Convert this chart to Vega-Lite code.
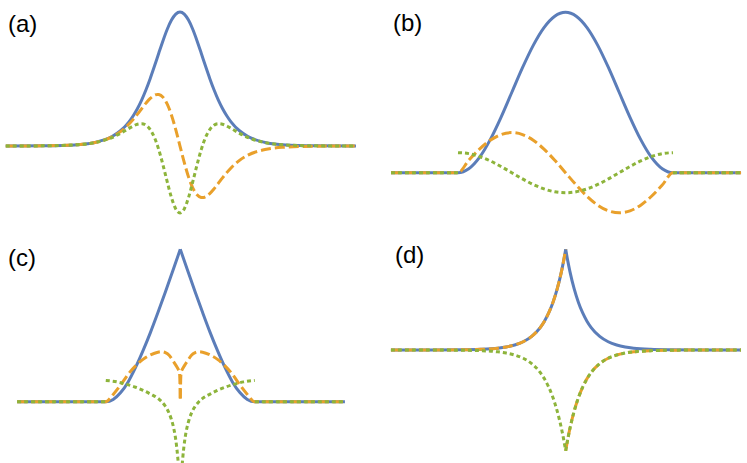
{
"$schema": "https://vega.github.io/schema/vega-lite/v6.json",
"padding": 0,
"background": "white",
"config": {"view": {"stroke": null}},
"datasets": {
"A": [
{"k":"b","s":0,"x":-10.25,"y":0},{"k":"b","s":0,"x":-8,"y":0.0013},{"k":"b","s":0,"x":-6,"y":0.0099},{"k":"b","s":0,"x":-5,"y":0.0266},{"k":"b","s":0,"x":-4,"y":0.0707},{"k":"b","s":0,"x":-3.5,"y":0.1138},{"k":"b","s":0,"x":-3,"y":0.1807},{"k":"b","s":0,"x":-2.75,"y":0.2259},{"k":"b","s":0,"x":-2.5,"y":0.2804},{"k":"b","s":0,"x":-2.25,"y":0.345},{"k":"b","s":0,"x":-2,"y":0.42},{"k":"b","s":0,"x":-1.75,"y":0.5045},{"k":"b","s":0,"x":-1.5,"y":0.5966},{"k":"b","s":0,"x":-1.25,"y":0.6924},{"k":"b","s":0,"x":-1,"y":0.7864},{"k":"b","s":0,"x":-0.75,"y":0.8716},{"k":"b","s":0,"x":-0.5,"y":0.94},{"k":"b","s":0,"x":-0.25,"y":0.9845},{"k":"b","s":0,"x":0,"y":1},
{"k":"b","s":0,"x":0.25,"y":0.9845},{"k":"b","s":0,"x":0.5,"y":0.94},{"k":"b","s":0,"x":0.75,"y":0.8716},{"k":"b","s":0,"x":1,"y":0.7864},{"k":"b","s":0,"x":1.25,"y":0.6924},{"k":"b","s":0,"x":1.5,"y":0.5966},{"k":"b","s":0,"x":1.75,"y":0.5045},{"k":"b","s":0,"x":2,"y":0.42},{"k":"b","s":0,"x":2.25,"y":0.345},{"k":"b","s":0,"x":2.5,"y":0.2804},{"k":"b","s":0,"x":2.75,"y":0.2259},{"k":"b","s":0,"x":3,"y":0.1807},{"k":"b","s":0,"x":3.5,"y":0.1138},{"k":"b","s":0,"x":4,"y":0.0707},{"k":"b","s":0,"x":5,"y":0.0266},{"k":"b","s":0,"x":6,"y":0.0099},{"k":"b","s":0,"x":8,"y":0.0013},{"k":"b","s":0,"x":10.35,"y":0},
{"k":"o","s":0,"x":-10.25,"y":0},{"k":"o","s":0,"x":-8,"y":0.0013},{"k":"o","s":0,"x":-6,"y":0.0098},{"k":"o","s":0,"x":-5,"y":0.0262},{"k":"o","s":0,"x":-4,"y":0.0681},{"k":"o","s":0,"x":-3.5,"y":0.1071},{"k":"o","s":0,"x":-3,"y":0.1636},{"k":"o","s":0,"x":-2.75,"y":0.1988},{"k":"o","s":0,"x":-2.5,"y":0.2379},{"k":"o","s":0,"x":-2.25,"y":0.2792},{"k":"o","s":0,"x":-2,"y":0.3199},{"k":"o","s":0,"x":-1.75,"y":0.3551},{"k":"o","s":0,"x":-1.5,"y":0.3789},{"k":"o","s":0,"x":-1.32,"y":0.3849},{"k":"o","s":0,"x":-1.25,"y":0.384},{"k":"o","s":0,"x":-1,"y":0.3634},{"k":"o","s":0,"x":-0.75,"y":0.3123},{"k":"o","s":0,"x":-0.5,"y":0.2302},{"k":"o","s":0,"x":-0.25,"y":0.1224},{"k":"o","s":0,"x":0,"y":0},
{"k":"o","s":0,"x":0.25,"y":-0.1224},{"k":"o","s":0,"x":0.5,"y":-0.2302},{"k":"o","s":0,"x":0.75,"y":-0.3123},{"k":"o","s":0,"x":1,"y":-0.3634},{"k":"o","s":0,"x":1.25,"y":-0.384},{"k":"o","s":0,"x":1.32,"y":-0.3849},{"k":"o","s":0,"x":1.5,"y":-0.3789},{"k":"o","s":0,"x":1.75,"y":-0.3551},{"k":"o","s":0,"x":2,"y":-0.3199},{"k":"o","s":0,"x":2.25,"y":-0.2792},{"k":"o","s":0,"x":2.5,"y":-0.2379},{"k":"o","s":0,"x":2.75,"y":-0.1988},{"k":"o","s":0,"x":3,"y":-0.1636},{"k":"o","s":0,"x":3.5,"y":-0.1071},{"k":"o","s":0,"x":4,"y":-0.0681},{"k":"o","s":0,"x":5,"y":-0.0262},{"k":"o","s":0,"x":6,"y":-0.0098},{"k":"o","s":0,"x":8,"y":-0.0013},{"k":"o","s":0,"x":10.35,"y":0},
{"k":"g","s":0,"x":-10.25,"y":0},{"k":"g","s":0,"x":-8,"y":0.0013},{"k":"g","s":0,"x":-6,"y":0.0097},{"k":"g","s":0,"x":-5,"y":0.0255},{"k":"g","s":0,"x":-4,"y":0.0632},{"k":"g","s":0,"x":-3.5,"y":0.0944},{"k":"g","s":0,"x":-3,"y":0.1317},{"k":"g","s":0,"x":-2.75,"y":0.1494},{"k":"g","s":0,"x":-2.5,"y":0.1625},{"k":"g","s":0,"x":-2.25,"y":0.1665},{"k":"g","s":0,"x":-2,"y":0.1554},{"k":"g","s":0,"x":-1.75,"y":0.1227},{"k":"g","s":0,"x":-1.5,"y":0.0627},{"k":"g","s":0,"x":-1.25,"y":-0.0268},{"k":"g","s":0,"x":-1,"y":-0.1413},{"k":"g","s":0,"x":-0.75,"y":-0.2679},{"k":"g","s":0,"x":-0.5,"y":-0.3854},{"k":"g","s":0,"x":-0.25,"y":-0.4694},{"k":"g","s":0,"x":0,"y":-0.5},
{"k":"g","s":0,"x":0.25,"y":-0.4694},{"k":"g","s":0,"x":0.5,"y":-0.3854},{"k":"g","s":0,"x":0.75,"y":-0.2679},{"k":"g","s":0,"x":1,"y":-0.1413},{"k":"g","s":0,"x":1.25,"y":-0.0268},{"k":"g","s":0,"x":1.5,"y":0.0627},{"k":"g","s":0,"x":1.75,"y":0.1227},{"k":"g","s":0,"x":2,"y":0.1554},{"k":"g","s":0,"x":2.25,"y":0.1665},{"k":"g","s":0,"x":2.5,"y":0.1625},{"k":"g","s":0,"x":2.75,"y":0.1494},{"k":"g","s":0,"x":3,"y":0.1317},{"k":"g","s":0,"x":3.5,"y":0.0944},{"k":"g","s":0,"x":4,"y":0.0632},{"k":"g","s":0,"x":5,"y":0.0255},{"k":"g","s":0,"x":6,"y":0.0097},{"k":"g","s":0,"x":8,"y":0.0013},{"k":"g","s":0,"x":10.35,"y":0}
],
"B": [
{"k":"b","s":0,"x":-1.623,"y":0},{"k":"b","s":0,"x":-1,"y":0},{"k":"b","s":0,"x":-0.9,"y":0.0245},{"k":"b","s":0,"x":-0.8,"y":0.0955},{"k":"b","s":0,"x":-0.7,"y":0.2061},{"k":"b","s":0,"x":-0.6,"y":0.3455},{"k":"b","s":0,"x":-0.5,"y":0.5},{"k":"b","s":0,"x":-0.4,"y":0.6545},{"k":"b","s":0,"x":-0.3,"y":0.7939},{"k":"b","s":0,"x":-0.2,"y":0.9045},{"k":"b","s":0,"x":-0.1,"y":0.9755},{"k":"b","s":0,"x":0,"y":1},{"k":"b","s":0,"x":0.1,"y":0.9755},{"k":"b","s":0,"x":0.2,"y":0.9045},{"k":"b","s":0,"x":0.3,"y":0.7939},{"k":"b","s":0,"x":0.4,"y":0.6545},{"k":"b","s":0,"x":0.5,"y":0.5},{"k":"b","s":0,"x":0.6,"y":0.3455},{"k":"b","s":0,"x":0.7,"y":0.2061},{"k":"b","s":0,"x":0.8,"y":0.0955},{"k":"b","s":0,"x":0.9,"y":0.0245},{"k":"b","s":0,"x":1,"y":0},{"k":"b","s":0,"x":1.633,"y":0},
{"k":"o","s":0,"x":-1.623,"y":0},{"k":"o","s":0,"x":-1,"y":0},{"k":"o","s":0,"x":-0.9,"y":0.0773},{"k":"o","s":0,"x":-0.8,"y":0.1469},{"k":"o","s":0,"x":-0.7,"y":0.2023},{"k":"o","s":0,"x":-0.6,"y":0.2378},{"k":"o","s":0,"x":-0.5,"y":0.25},{"k":"o","s":0,"x":-0.4,"y":0.2378},{"k":"o","s":0,"x":-0.3,"y":0.2023},{"k":"o","s":0,"x":-0.2,"y":0.1469},{"k":"o","s":0,"x":-0.1,"y":0.0773},{"k":"o","s":0,"x":0,"y":0},{"k":"o","s":0,"x":0.1,"y":-0.0773},{"k":"o","s":0,"x":0.2,"y":-0.1469},{"k":"o","s":0,"x":0.3,"y":-0.2023},{"k":"o","s":0,"x":0.4,"y":-0.2378},{"k":"o","s":0,"x":0.5,"y":-0.25},{"k":"o","s":0,"x":0.6,"y":-0.2378},{"k":"o","s":0,"x":0.7,"y":-0.2023},{"k":"o","s":0,"x":0.8,"y":-0.1469},{"k":"o","s":0,"x":0.9,"y":-0.0773},{"k":"o","s":0,"x":1,"y":0},{"k":"o","s":0,"x":1.633,"y":0},
{"k":"g","s":0,"x":-1.623,"y":0},{"k":"g","s":0,"x":-1,"y":0},
{"k":"g","s":1,"x":-1,"y":0.125},{"k":"g","s":1,"x":-0.9,"y":0.1189},{"k":"g","s":1,"x":-0.8,"y":0.1011},{"k":"g","s":1,"x":-0.7,"y":0.0735},{"k":"g","s":1,"x":-0.6,"y":0.0386},{"k":"g","s":1,"x":-0.5,"y":0},{"k":"g","s":1,"x":-0.4,"y":-0.0386},{"k":"g","s":1,"x":-0.3,"y":-0.0735},{"k":"g","s":1,"x":-0.2,"y":-0.1011},{"k":"g","s":1,"x":-0.1,"y":-0.1189},{"k":"g","s":1,"x":0,"y":-0.125},{"k":"g","s":1,"x":0.1,"y":-0.1189},{"k":"g","s":1,"x":0.2,"y":-0.1011},{"k":"g","s":1,"x":0.3,"y":-0.0735},{"k":"g","s":1,"x":0.4,"y":-0.0386},{"k":"g","s":1,"x":0.5,"y":0},{"k":"g","s":1,"x":0.6,"y":0.0386},{"k":"g","s":1,"x":0.7,"y":0.0735},{"k":"g","s":1,"x":0.8,"y":0.1011},{"k":"g","s":1,"x":0.9,"y":0.1189},{"k":"g","s":1,"x":1,"y":0.125},
{"k":"g","s":2,"x":1,"y":0},{"k":"g","s":2,"x":1.633,"y":0}
],
"C": [
{"k":"b","s":0,"x":-2.19,"y":0},{"k":"b","s":0,"x":-1,"y":0},{"k":"b","s":0,"x":-0.9,"y":0.015},{"k":"b","s":0,"x":-0.8,"y":0.06},{"k":"b","s":0,"x":-0.7,"y":0.13},{"k":"b","s":0,"x":-0.6,"y":0.225},{"k":"b","s":0,"x":-0.5,"y":0.335},{"k":"b","s":0,"x":-0.4,"y":0.455},{"k":"b","s":0,"x":-0.3,"y":0.585},{"k":"b","s":0,"x":-0.2,"y":0.72},{"k":"b","s":0,"x":-0.1,"y":0.86},{"k":"b","s":0,"x":0,"y":1},
{"k":"b","s":1,"x":0,"y":1},{"k":"b","s":1,"x":0.1,"y":0.86},{"k":"b","s":1,"x":0.2,"y":0.72},{"k":"b","s":1,"x":0.3,"y":0.585},{"k":"b","s":1,"x":0.4,"y":0.455},{"k":"b","s":1,"x":0.5,"y":0.335},{"k":"b","s":1,"x":0.6,"y":0.225},{"k":"b","s":1,"x":0.7,"y":0.13},{"k":"b","s":1,"x":0.8,"y":0.06},{"k":"b","s":1,"x":0.9,"y":0.015},{"k":"b","s":1,"x":1,"y":0},{"k":"b","s":1,"x":2.21,"y":0},
{"k":"o","s":0,"x":-2.19,"y":0},{"k":"o","s":0,"x":-1,"y":0},{"k":"o","s":0,"x":-0.9,"y":0.048},{"k":"o","s":0,"x":-0.8,"y":0.11},{"k":"o","s":0,"x":-0.7,"y":0.18},{"k":"o","s":0,"x":-0.6,"y":0.235},{"k":"o","s":0,"x":-0.5,"y":0.278},{"k":"o","s":0,"x":-0.4,"y":0.307},{"k":"o","s":0,"x":-0.3,"y":0.325},{"k":"o","s":0,"x":-0.25,"y":0.328},{"k":"o","s":0,"x":-0.2,"y":0.322},{"k":"o","s":0,"x":-0.15,"y":0.305},{"k":"o","s":0,"x":-0.1,"y":0.27},{"k":"o","s":0,"x":-0.06,"y":0.24},{"k":"o","s":0,"x":-0.03,"y":0.215},{"k":"o","s":0,"x":-0.01,"y":0.19},{"k":"o","s":0,"x":0,"y":0.02},
{"k":"o","s":1,"x":0,"y":0.02},{"k":"o","s":1,"x":0.01,"y":0.19},{"k":"o","s":1,"x":0.03,"y":0.215},{"k":"o","s":1,"x":0.06,"y":0.24},{"k":"o","s":1,"x":0.1,"y":0.27},{"k":"o","s":1,"x":0.15,"y":0.305},{"k":"o","s":1,"x":0.2,"y":0.322},{"k":"o","s":1,"x":0.25,"y":0.328},{"k":"o","s":1,"x":0.3,"y":0.325},{"k":"o","s":1,"x":0.4,"y":0.307},{"k":"o","s":1,"x":0.5,"y":0.278},{"k":"o","s":1,"x":0.6,"y":0.235},{"k":"o","s":1,"x":0.7,"y":0.18},{"k":"o","s":1,"x":0.8,"y":0.11},{"k":"o","s":1,"x":0.9,"y":0.048},{"k":"o","s":1,"x":1,"y":0},{"k":"o","s":1,"x":2.21,"y":0},
{"k":"g","s":0,"x":-2.19,"y":0},{"k":"g","s":0,"x":-1,"y":0},
{"k":"g","s":1,"x":-1,"y":0.14},{"k":"g","s":1,"x":-0.85,"y":0.13},{"k":"g","s":1,"x":-0.72,"y":0.114},{"k":"g","s":1,"x":-0.6,"y":0.095},{"k":"g","s":1,"x":-0.5,"y":0.075},{"k":"g","s":1,"x":-0.4,"y":0.05},{"k":"g","s":1,"x":-0.3,"y":0.022},{"k":"g","s":1,"x":-0.25,"y":0},{"k":"g","s":1,"x":-0.2,"y":-0.03},{"k":"g","s":1,"x":-0.15,"y":-0.075},{"k":"g","s":1,"x":-0.12,"y":-0.115},{"k":"g","s":1,"x":-0.09,"y":-0.17},{"k":"g","s":1,"x":-0.07,"y":-0.22},{"k":"g","s":1,"x":-0.05,"y":-0.29},{"k":"g","s":1,"x":-0.035,"y":-0.36},{"k":"g","s":1,"x":-0.025,"y":-0.42},{"k":"g","s":1,"x":-0.012,"y":-0.55},
{"k":"g","s":2,"x":0.012,"y":-0.55},{"k":"g","s":2,"x":0.025,"y":-0.42},{"k":"g","s":2,"x":0.035,"y":-0.36},{"k":"g","s":2,"x":0.05,"y":-0.29},{"k":"g","s":2,"x":0.07,"y":-0.22},{"k":"g","s":2,"x":0.09,"y":-0.17},{"k":"g","s":2,"x":0.12,"y":-0.115},{"k":"g","s":2,"x":0.15,"y":-0.075},{"k":"g","s":2,"x":0.2,"y":-0.03},{"k":"g","s":2,"x":0.25,"y":0},{"k":"g","s":2,"x":0.3,"y":0.022},{"k":"g","s":2,"x":0.4,"y":0.05},{"k":"g","s":2,"x":0.5,"y":0.075},{"k":"g","s":2,"x":0.6,"y":0.095},{"k":"g","s":2,"x":0.72,"y":0.114},{"k":"g","s":2,"x":0.85,"y":0.13},{"k":"g","s":2,"x":1,"y":0.14},
{"k":"g","s":3,"x":1,"y":0},{"k":"g","s":3,"x":2.21,"y":0}
],
"D": [
{"k":"b","s":0,"x":-10.28,"y":0},{"k":"b","s":0,"x":-8,"y":0.0003},{"k":"b","s":0,"x":-6,"y":0.0025},{"k":"b","s":0,"x":-5,"y":0.0067},{"k":"b","s":0,"x":-4,"y":0.0183},{"k":"b","s":0,"x":-3.5,"y":0.0302},{"k":"b","s":0,"x":-3,"y":0.0498},{"k":"b","s":0,"x":-2.5,"y":0.0821},{"k":"b","s":0,"x":-2,"y":0.1353},{"k":"b","s":0,"x":-1.5,"y":0.2231},{"k":"b","s":0,"x":-1.25,"y":0.2865},{"k":"b","s":0,"x":-1,"y":0.3679},{"k":"b","s":0,"x":-0.75,"y":0.4724},{"k":"b","s":0,"x":-0.5,"y":0.6065},{"k":"b","s":0,"x":-0.25,"y":0.7788},{"k":"b","s":0,"x":-0.125,"y":0.8825},{"k":"b","s":0,"x":0,"y":1},
{"k":"b","s":1,"x":0,"y":1},{"k":"b","s":1,"x":0.125,"y":0.8825},{"k":"b","s":1,"x":0.25,"y":0.7788},{"k":"b","s":1,"x":0.5,"y":0.6065},{"k":"b","s":1,"x":0.75,"y":0.4724},{"k":"b","s":1,"x":1,"y":0.3679},{"k":"b","s":1,"x":1.25,"y":0.2865},{"k":"b","s":1,"x":1.5,"y":0.2231},{"k":"b","s":1,"x":2,"y":0.1353},{"k":"b","s":1,"x":2.5,"y":0.0821},{"k":"b","s":1,"x":3,"y":0.0498},{"k":"b","s":1,"x":3.5,"y":0.0302},{"k":"b","s":1,"x":4,"y":0.0183},{"k":"b","s":1,"x":5,"y":0.0067},{"k":"b","s":1,"x":6,"y":0.0025},{"k":"b","s":1,"x":8,"y":0.0003},{"k":"b","s":1,"x":10.31,"y":0},
{"k":"o","s":0,"x":-10.28,"y":0},{"k":"o","s":0,"x":-8,"y":0.0003},{"k":"o","s":0,"x":-6,"y":0.0025},{"k":"o","s":0,"x":-5,"y":0.0067},{"k":"o","s":0,"x":-4,"y":0.0183},{"k":"o","s":0,"x":-3.5,"y":0.0302},{"k":"o","s":0,"x":-3,"y":0.0498},{"k":"o","s":0,"x":-2.5,"y":0.0821},{"k":"o","s":0,"x":-2,"y":0.1353},{"k":"o","s":0,"x":-1.5,"y":0.2231},{"k":"o","s":0,"x":-1.25,"y":0.2865},{"k":"o","s":0,"x":-1,"y":0.3679},{"k":"o","s":0,"x":-0.75,"y":0.4724},{"k":"o","s":0,"x":-0.5,"y":0.6065},{"k":"o","s":0,"x":-0.25,"y":0.7788},{"k":"o","s":0,"x":-0.125,"y":0.8825},{"k":"o","s":0,"x":0,"y":1},
{"k":"o","s":1,"x":0,"y":-1},{"k":"o","s":1,"x":0.125,"y":-0.8825},{"k":"o","s":1,"x":0.25,"y":-0.7788},{"k":"o","s":1,"x":0.5,"y":-0.6065},{"k":"o","s":1,"x":0.75,"y":-0.4724},{"k":"o","s":1,"x":1,"y":-0.3679},{"k":"o","s":1,"x":1.25,"y":-0.2865},{"k":"o","s":1,"x":1.5,"y":-0.2231},{"k":"o","s":1,"x":2,"y":-0.1353},{"k":"o","s":1,"x":2.5,"y":-0.0821},{"k":"o","s":1,"x":3,"y":-0.0498},{"k":"o","s":1,"x":3.5,"y":-0.0302},{"k":"o","s":1,"x":4,"y":-0.0183},{"k":"o","s":1,"x":5,"y":-0.0067},{"k":"o","s":1,"x":6,"y":-0.0025},{"k":"o","s":1,"x":8,"y":-0.0003},{"k":"o","s":1,"x":10.31,"y":0},
{"k":"g","s":0,"x":-10.28,"y":0},{"k":"g","s":0,"x":-8,"y":-0.0003},{"k":"g","s":0,"x":-6,"y":-0.0025},{"k":"g","s":0,"x":-5,"y":-0.0067},{"k":"g","s":0,"x":-4,"y":-0.0183},{"k":"g","s":0,"x":-3.5,"y":-0.0302},{"k":"g","s":0,"x":-3,"y":-0.0498},{"k":"g","s":0,"x":-2.5,"y":-0.0821},{"k":"g","s":0,"x":-2,"y":-0.1353},{"k":"g","s":0,"x":-1.5,"y":-0.2231},{"k":"g","s":0,"x":-1.25,"y":-0.2865},{"k":"g","s":0,"x":-1,"y":-0.3679},{"k":"g","s":0,"x":-0.75,"y":-0.4724},{"k":"g","s":0,"x":-0.5,"y":-0.6065},{"k":"g","s":0,"x":-0.25,"y":-0.7788},{"k":"g","s":0,"x":-0.125,"y":-0.8825},{"k":"g","s":0,"x":0,"y":-1},
{"k":"g","s":1,"x":0,"y":-1},{"k":"g","s":1,"x":0.125,"y":-0.8825},{"k":"g","s":1,"x":0.25,"y":-0.7788},{"k":"g","s":1,"x":0.5,"y":-0.6065},{"k":"g","s":1,"x":0.75,"y":-0.4724},{"k":"g","s":1,"x":1,"y":-0.3679},{"k":"g","s":1,"x":1.25,"y":-0.2865},{"k":"g","s":1,"x":1.5,"y":-0.2231},{"k":"g","s":1,"x":2,"y":-0.1353},{"k":"g","s":1,"x":2.5,"y":-0.0821},{"k":"g","s":1,"x":3,"y":-0.0498},{"k":"g","s":1,"x":3.5,"y":-0.0302},{"k":"g","s":1,"x":4,"y":-0.0183},{"k":"g","s":1,"x":5,"y":-0.0067},{"k":"g","s":1,"x":6,"y":-0.0025},{"k":"g","s":1,"x":8,"y":-0.0003},{"k":"g","s":1,"x":10.31,"y":0}
]
},
"vconcat": [
{"hconcat": [
{"width": 373, "height": 231, "data": {"name": "A"},
 "encoding": {"x": {"field": "x", "type": "quantitative", "scale": {"domain": [-10.588, 11.353], "nice": false, "zero": false}, "axis": null},
              "y": {"field": "y", "type": "quantitative", "scale": {"domain": [-0.6343, 1.0896], "nice": false, "zero": false}, "axis": null}},
 "layer": [
  {"transform": [{"filter": "datum.k=='b'"}], "mark": {"type": "line", "interpolate": "monotone", "strokeWidth": 3, "color": "#5B7DB9", "clip": true}, "encoding": {"detail": {"field": "s"}}},
  {"transform": [{"filter": "datum.k=='o'"}], "mark": {"type": "line", "interpolate": "monotone", "strokeWidth": 3, "color": "#E9A02B", "strokeDash": [10, 4], "clip": true}, "encoding": {"detail": {"field": "s"}}},
  {"transform": [{"filter": "datum.k=='g'"}], "mark": {"type": "line", "interpolate": "monotone", "strokeWidth": 3, "color": "#8DB43B", "strokeDash": [4, 3], "clip": true}, "encoding": {"detail": {"field": "s"}}},
  {"data": {"values": [{"x": -10.12, "y": 0.8545, "t": "(a)"}]}, "mark": {"type": "text", "align": "left", "baseline": "alphabetic", "fontSize": 24, "font": "Liberation Sans", "color": "#000000"}, "encoding": {"text": {"field": "t"}}}
 ]},
{"width": 374, "height": 231, "data": {"name": "B"},
 "encoding": {"x": {"field": "x", "type": "quantitative", "scale": {"domain": [-1.7907, 1.6884], "nice": false, "zero": false}, "axis": null},
              "y": {"field": "y", "type": "quantitative", "scale": {"domain": [-0.3635, 1.0767], "nice": false, "zero": false}, "axis": null}},
 "layer": [
  {"transform": [{"filter": "datum.k=='b'"}], "mark": {"type": "line", "interpolate": "monotone", "strokeWidth": 3, "color": "#5B7DB9", "clip": true}, "encoding": {"detail": {"field": "s"}}},
  {"transform": [{"filter": "datum.k=='o'"}], "mark": {"type": "line", "interpolate": "monotone", "strokeWidth": 3, "color": "#E9A02B", "strokeDash": [10, 4], "clip": true}, "encoding": {"detail": {"field": "s"}}},
  {"transform": [{"filter": "datum.k=='g'"}], "mark": {"type": "line", "interpolate": "monotone", "strokeWidth": 3, "color": "#8DB43B", "strokeDash": [4, 3], "clip": true}, "encoding": {"detail": {"field": "s"}}},
  {"data": {"values": [{"x": -1.6047, "y": 0.8834, "t": "(b)"}]}, "mark": {"type": "text", "align": "left", "baseline": "alphabetic", "fontSize": 24, "font": "Liberation Sans", "color": "#000000"}, "encoding": {"text": {"field": "t"}}}
 ]}
], "spacing": 0, "resolve": {"scale": {"x": "independent", "y": "independent"}}},
{"hconcat": [
{"width": 373, "height": 232, "data": {"name": "C"},
 "encoding": {"x": {"field": "x", "type": "quantitative", "scale": {"domain": [-2.42, 2.587], "nice": false, "zero": false}, "axis": null},
              "y": {"field": "y", "type": "quantitative", "scale": {"domain": [-0.4022, 1.1201], "nice": false, "zero": false}, "axis": null}},
 "layer": [
  {"transform": [{"filter": "datum.k=='b'"}], "mark": {"type": "line", "interpolate": "monotone", "strokeWidth": 3, "color": "#5B7DB9", "clip": true}, "encoding": {"detail": {"field": "s"}}},
  {"transform": [{"filter": "datum.k=='o'"}], "mark": {"type": "line", "interpolate": "monotone", "strokeWidth": 3, "color": "#E9A02B", "strokeDash": [10, 4], "clip": true}, "encoding": {"detail": {"field": "s"}}},
  {"transform": [{"filter": "datum.k=='g'"}], "mark": {"type": "line", "interpolate": "monotone", "strokeWidth": 3, "color": "#8DB43B", "strokeDash": [4, 3], "clip": true}, "encoding": {"detail": {"field": "s"}}},
  {"data": {"values": [{"x": -2.313, "y": 0.89, "t": "(c)"}]}, "mark": {"type": "text", "align": "left", "baseline": "alphabetic", "fontSize": 24, "font": "Liberation Sans", "color": "#000000"}, "encoding": {"text": {"field": "t"}}}
 ]},
{"width": 374, "height": 232, "data": {"name": "D"},
 "encoding": {"x": {"field": "x", "type": "quantitative", "scale": {"domain": [-11.335, 10.665], "nice": false, "zero": false}, "axis": null},
              "y": {"field": "y", "type": "quantitative", "scale": {"domain": [-1.122, 1.1817], "nice": false, "zero": false}, "axis": null}},
 "layer": [
  {"transform": [{"filter": "datum.k=='b'"}], "mark": {"type": "line", "interpolate": "monotone", "strokeWidth": 3, "color": "#5B7DB9", "clip": true}, "encoding": {"detail": {"field": "s"}}},
  {"transform": [{"filter": "datum.k=='o'"}], "mark": {"type": "line", "interpolate": "monotone", "strokeWidth": 3, "color": "#E9A02B", "strokeDash": [10, 4], "clip": true}, "encoding": {"detail": {"field": "s"}}},
  {"transform": [{"filter": "datum.k=='g'"}], "mark": {"type": "line", "interpolate": "monotone", "strokeWidth": 3, "color": "#8DB43B", "strokeDash": [4, 3], "clip": true}, "encoding": {"detail": {"field": "s"}}},
  {"data": {"values": [{"x": -10.04, "y": 0.864, "t": "(d)"}]}, "mark": {"type": "text", "align": "left", "baseline": "alphabetic", "fontSize": 24, "font": "Liberation Sans", "color": "#000000"}, "encoding": {"text": {"field": "t"}}}
 ]}
], "spacing": 0, "resolve": {"scale": {"x": "independent", "y": "independent"}}}
],
"spacing": 0,
"resolve": {"scale": {"x": "independent", "y": "independent"}}
}
